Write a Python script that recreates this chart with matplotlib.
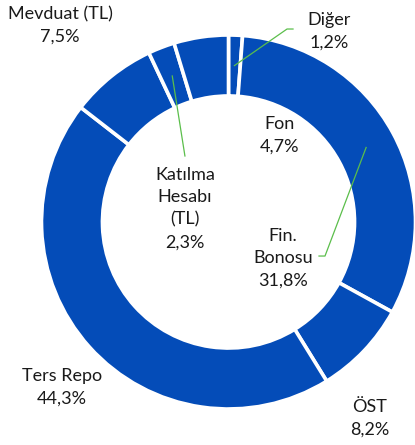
import numpy as np
import matplotlib
matplotlib.use("Agg")
import matplotlib.pyplot as plt

categories = ["Diğer", "Fin.\nBonosu", "ÖST", "Ters Repo", "Mevduat (TL)", "Katılma\nHesabı\n(TL)", "Fon"]
values = [1.2, 31.8, 8.2, 44.3, 7.5, 2.3, 4.7]
value_labels = ["1,2%", "31,8%", "8,2%", "44,3%", "7,5%", "2,3%", "4,7%"]

# label positions (data units, pie radius = 1)
label_pos = [(0.537, 1.019), (0.291, -0.193), (0.757, -1.048), (-0.890, -0.882),
             (-0.901, 1.051), (-0.233, 0.072), (0.275, 0.463)]
# leader line elbows
leaders = {0: [(0.313, 1.032), (0.345, 1.032)],
           5: [(-0.233, 0.353)],
           1: [(0.516, -0.182), (0.484, -0.182)]}

W, H = 415, 445
fig = plt.figure(figsize=(W / 100, H / 100), dpi=100)
cx, cy, R = 228.5, 222, 187
ax = fig.add_axes([(cx - R) / W, (H - cy - R) / H, 2 * R / W, 2 * R / H])

blue = "#044CB8"
width = 0.326
wedges, _ = ax.pie(values, startangle=90, counterclock=False, radius=1,
                   colors=[blue] * len(values),
                   wedgeprops=dict(width=width, edgecolor="white", linewidth=2.6))
ax.set_xlim(-1, 1)
ax.set_ylim(-1, 1)
ax.set_aspect("equal")
ax.axis("off")

font = ["Lato", "DejaVu Sans"]
for i, (cat, vl) in enumerate(zip(categories, value_labels)):
    x, y = label_pos[i]
    ax.text(x, y, cat + "\n" + vl, ha="center", va="center", fontsize=13,
            family=font, color="#1a1a1a", linespacing=1.5, clip_on=False)

green = "#5BBE4B"
rmid = 1 - width / 2
for i, pts in leaders.items():
    w = wedges[i]
    ang = np.deg2rad((w.theta1 + w.theta2) / 2)
    start = (rmid * np.cos(ang), rmid * np.sin(ang))
    xs = [start[0]] + [p[0] for p in pts]
    ys = [start[1]] + [p[1] for p in pts]
    ax.plot(xs, ys, color=green, lw=0.9, clip_on=False, zorder=5)

fig.savefig("out.png", dpi=100)
